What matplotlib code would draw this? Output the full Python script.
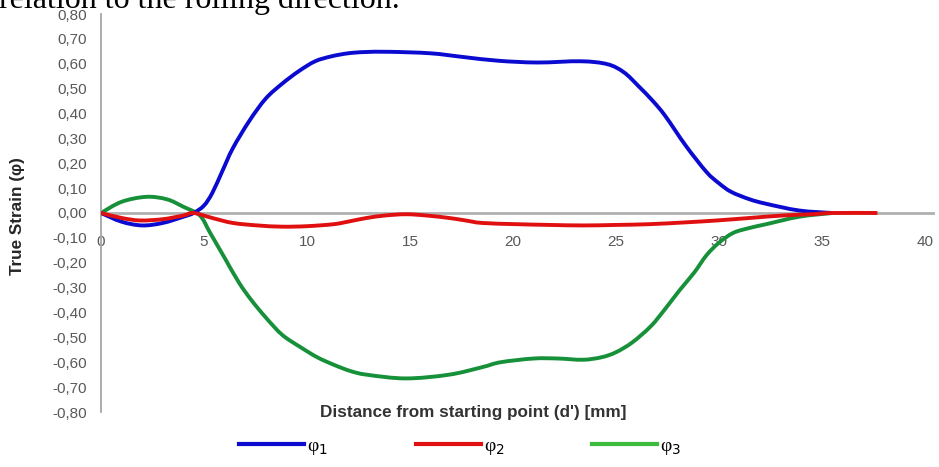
import matplotlib
matplotlib.use("Agg")
import numpy as np
import matplotlib.pyplot as plt
from matplotlib.lines import Line2D
from matplotlib.path import Path
from matplotlib.patches import PathPatch

# strain profiles along the specimen
dist_1 = [0, 1.0, 2.0, 3.0, 4.0, 4.5, 5.0, 5.4, 5.9, 6.4, 7.2, 8.0, 8.8, 9.6, 10.4, 11.2, 12.0, 12.8, 14.0,
          16.0, 17.6, 19.3, 21.2, 23.3, 24.6, 25.4, 26.1, 26.8, 27.4, 28.4, 29.4, 30.0, 30.6, 31.5, 32.3,
          33.9, 35.5]
phi_1 = [0, -0.035, -0.05, -0.04, -0.015, 0.0, 0.03, 0.08, 0.17, 0.26, 0.37, 0.46, 0.52, 0.57, 0.61, 0.63,
         0.642, 0.647, 0.648, 0.642, 0.627, 0.612, 0.605, 0.61, 0.598, 0.565, 0.51, 0.45, 0.39, 0.27, 0.165,
         0.12, 0.085, 0.055, 0.037, 0.01, 0.0]

dist_2 = [0, 1.0, 1.9, 3.0, 4.0, 4.5, 5.4, 6.4, 7.6, 8.8, 10.0, 11.3, 12.1, 12.9, 13.8, 14.8, 15.8, 16.9,
          17.7, 18.5, 20.2, 21.8, 23.4, 25.0, 26.6, 28.3, 29.9, 31.5, 33.1, 34.5, 35.5, 37.7]
phi_2 = [0, -0.02, -0.03, -0.025, -0.01, 0.0, -0.02, -0.04, -0.05, -0.055, -0.053, -0.045, -0.033, -0.02,
         -0.01, -0.005, -0.01, -0.02, -0.03, -0.04, -0.045, -0.048, -0.05, -0.048, -0.045, -0.038, -0.03,
         -0.02, -0.01, -0.005, 0.0, 0.0]

dist_3 = [0, 1.0, 2.2, 3.2, 4.0, 4.8, 5.3, 6.0, 6.7, 7.3, 8.0, 8.8, 9.7, 10.5, 11.3, 12.1, 12.9, 14.8,
          16.9, 18.5, 19.4, 21.0, 22.2, 23.4, 24.3, 25.0, 25.8, 26.7, 27.4, 28.1, 28.8, 29.4, 30.0, 30.7,
          31.5, 32.3, 33.9, 35.5]
phi_3 = [0, 0.045, 0.065, 0.055, 0.025, -0.01, -0.08, -0.18, -0.28, -0.35, -0.42, -0.49, -0.54, -0.58,
         -0.61, -0.635, -0.65, -0.665, -0.65, -0.62, -0.60, -0.585, -0.585, -0.59, -0.58, -0.56, -0.52,
         -0.455, -0.385, -0.31, -0.24, -0.17, -0.12, -0.08, -0.06, -0.045, -0.015, 0.0]

y_ticks = [round(-0.8 + 0.1 * i, 1) for i in range(17)]
x_ticks = [0, 5, 10, 15, 20, 25, 30, 35, 40]
series_names = ["φ$_1$", "φ$_2$", "φ$_3$"]
colors = ["#0a0ad0", "#e01010", "#17903a"]
legend_colors = ["#0a0ad0", "#e01010", "#3cbb3c"]


def smooth_path(x, y):
    # Bezier segments through every point, like a spreadsheet "smoothed line"
    p = np.column_stack([x, y]).astype(float)
    ext = np.vstack([p[0], p, p[-1]])
    verts = [p[0]]
    codes = [Path.MOVETO]
    for i in range(1, len(ext) - 2):
        p0, p1, p2, p3 = ext[i - 1], ext[i], ext[i + 1], ext[i + 2]
        verts += [p1 + (p2 - p0) / 6, p2 - (p3 - p1) / 6, p2]
        codes += [Path.CURVE4] * 3
    return Path(verts, codes)


plt.rcParams['font.family'] = ['Liberation Sans', 'DejaVu Sans']

fig = plt.figure(figsize=(9.39, 4.67), dpi=100)
ax = fig.add_axes([101 / 939, 1 - 412 / 467, (933 - 101) / 939, (412 - 14) / 467])

for (xs, ys), c, z in zip([(dist_3, phi_3), (dist_1, phi_1), (dist_2, phi_2)],
                          [colors[2], colors[0], colors[1]], [2, 3, 4]):
    ax.add_patch(PathPatch(smooth_path(xs, ys), fill=False, edgecolor=c, lw=2.8,
                           capstyle="butt", zorder=z))

ax.set_xlim(0, 40.4)
ax.set_ylim(-0.8, 0.8)

for s in ["top", "right"]:
    ax.spines[s].set_visible(False)
ax.spines["left"].set_color("#a6a6a6")
ax.spines["left"].set_linewidth(1.3)
ax.spines["bottom"].set_position(("data", 0))
ax.spines["bottom"].set_color("#b0b0b0")
ax.spines["bottom"].set_linewidth(2.0)
ax.spines["bottom"].set_zorder(1)

ax.set_yticks(y_ticks)
ax.set_yticklabels([f"{v:.2f}".replace(".", ",") for v in y_ticks])
ax.set_xticks(x_ticks)
ax.set_xticklabels([str(v) for v in x_ticks])
ax.tick_params(axis="y", length=0, pad=10, labelsize=11, labelcolor="#595959")
ax.tick_params(axis="x", length=0, pad=16, labelsize=11, labelcolor="#595959")

fig.text(18 / 939, 1 - 216 / 467, "True Strain (φ)", rotation=90, ha="center", va="center",
         fontsize=12.3, fontweight="bold", color="#262626")
fig.text(473 / 939, 1 - 412 / 467, "Distance from starting point (d') [mm]", ha="center", va="center",
         fontsize=12.3, fontweight="bold", color="#333333")

# heading line of the surrounding page, clipped by the top edge
fig.text(-1 / 939, 1 - 8 / 467, "relation to the rolling direction.", ha="left", va="baseline",
         fontsize=23, family=["Liberation Serif", "DejaVu Serif"], color="black")

handles = [Line2D([], [], color=c, lw=3) for c in legend_colors]
fig.legend(handles, series_names, loc="center", bbox_to_anchor=(460 / 939, 1 - 447 / 467), ncol=3,
           frameon=False, handlelength=3.35, handletextpad=0.15, columnspacing=4.5,
           prop={"family": ["Liberation Serif", "DejaVu Serif"], "size": 14})

fig.savefig("out.png", dpi=100, facecolor="white")
